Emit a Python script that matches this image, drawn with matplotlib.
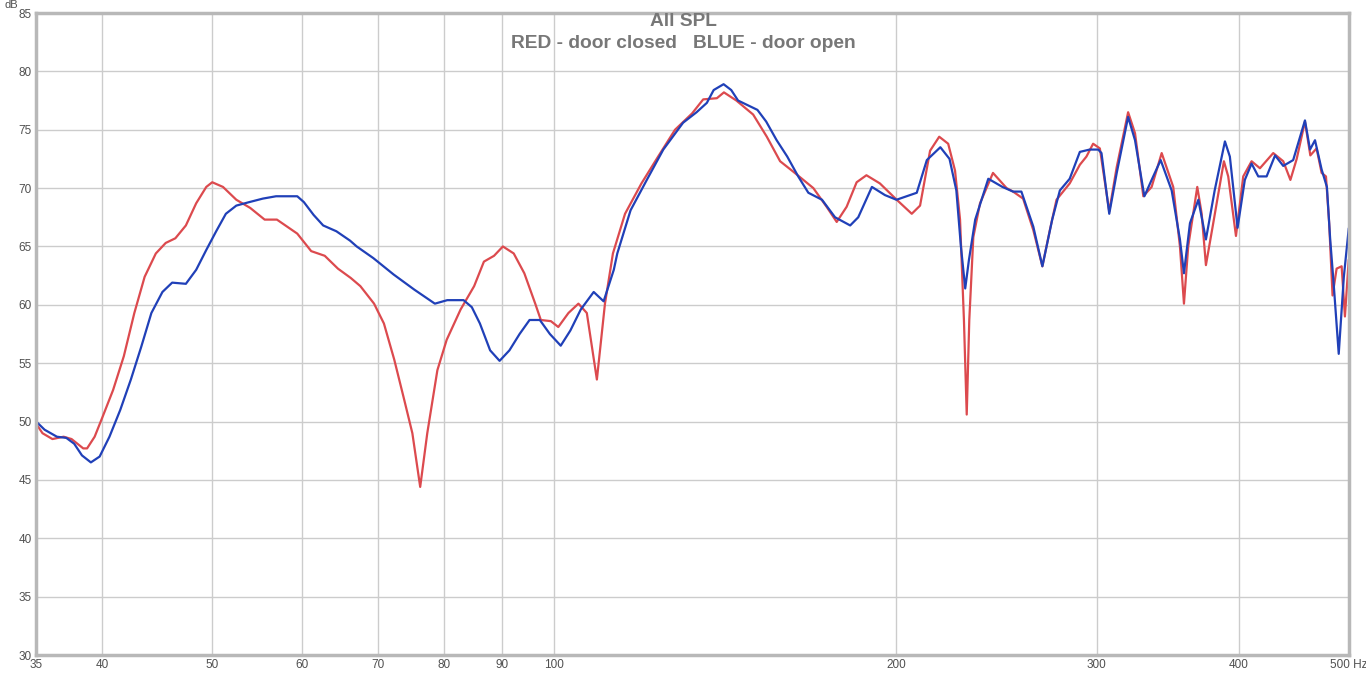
import numpy as np
import matplotlib
matplotlib.use('Agg')
import matplotlib.pyplot as plt

# RED - door closed
red_hz = [35.0, 35.45, 36.17, 37.0, 37.6, 38.5, 38.8, 39.4, 40.0, 40.9, 41.8, 42.7, 43.6, 44.6,
          45.5, 46.4, 47.4, 48.4, 49.4, 50.0, 51.1, 52.5, 54.0, 55.6, 57.0, 59.4, 61.1, 62.8,
          64.5, 66.2, 67.5, 69.4, 70.8, 72.3, 73.8, 75.0, 76.2, 77.3, 78.9, 80.4, 82.7, 85.0,
          86.7, 88.5, 90.1, 92.1, 94.1, 96.2, 97.3, 99.3, 100.8, 102.9, 105.0, 106.8, 109.0,
          110.8, 112.6, 115.4, 119.3, 123.4, 127.7, 132.2, 135.2, 139.0, 141.0, 144.6, 149.6,
          153.8, 158.0, 162.3, 169.0, 173.6, 177.2, 180.8, 184.5, 188.2, 193.4, 200.1, 206.3,
          209.8, 214.1, 218.1, 222.1, 225.2, 227.5, 229.3, 230.6, 231.8, 233.7, 236.9, 243.2,
          250.0, 253.3, 258.5, 263.9, 268.8, 272.9, 276.6, 284.1, 290.0, 293.9, 297.9, 302.0,
          307.8, 312.5, 319.8, 324.3, 329.8, 335.4, 342.3, 350.4, 355.2, 358.1, 361.2, 367.9,
          371.2, 374.4, 380.0, 388.3, 391.7, 397.9, 403.8, 410.7, 417.7, 429.1, 437.9, 444.3,
          450.0, 457.6, 462.6, 468.5, 473.3, 477.5, 480.6, 483.9, 487.9, 492.9, 496.2, 500.0]
red_db = [49.8, 49.0, 48.5, 48.7, 48.5, 47.7, 47.7, 48.7, 50.3, 52.7, 55.6, 59.3, 62.4, 64.4,
          65.3, 65.7, 66.8, 68.7, 70.1, 70.5, 70.1, 69.0, 68.3, 67.3, 67.3, 66.1, 64.6, 64.2,
          63.1, 62.3, 61.6, 60.1, 58.4, 55.3, 51.8, 49.0, 44.4, 49.0, 54.4, 57.0, 59.6, 61.6,
          63.7, 64.2, 65.0, 64.4, 62.7, 60.1, 58.7, 58.6, 58.1, 59.3, 60.1, 59.3, 53.6,
          60.1, 64.4, 67.8, 70.4, 72.7, 75.0, 76.4, 77.6, 77.7, 78.2, 77.5, 76.3,
          74.4, 72.3, 71.4, 70.0, 68.4, 67.1, 68.4, 70.5, 71.1, 70.4, 69.0, 67.8,
          68.5, 73.2, 74.4, 73.8, 71.5, 67.3, 58.7, 50.6, 58.7, 65.8, 68.7, 71.3,
          70.0, 69.7, 69.1, 66.4, 63.3, 66.4, 69.0, 70.4, 72.0, 72.7, 73.8, 73.4,
          68.0, 71.8, 76.5, 74.7, 69.3, 70.1, 73.0, 70.1, 65.0, 60.1, 65.0, 70.1,
          67.8, 63.4, 67.0, 72.3, 71.0, 65.9, 71.0, 72.3, 71.7, 73.0, 72.3, 70.7,
          72.5, 75.7, 72.8, 73.4, 71.3, 71.0, 67.0, 60.8, 63.1, 63.3, 59.0, 63.8]

# BLUE - door open
blue_hz = [35.0, 35.6, 36.5, 37.2, 37.8, 38.4, 39.1, 39.8, 40.6, 41.5, 42.4, 43.3, 44.2, 45.2,
           46.1, 47.4, 48.4, 49.4, 50.4, 51.4, 52.5, 53.9, 55.4, 56.9, 59.4, 60.2, 61.4, 62.6,
           64.3, 66.1, 67.0, 69.3, 72.2, 75.3, 78.5, 80.5, 83.2, 84.6, 86.0, 87.8, 89.5, 91.3,
           93.2, 95.1, 97.1, 99.1, 101.3, 103.3, 105.5, 108.3, 110.5, 112.8, 113.6, 116.7,
           120.6, 124.7, 129.8, 133.4, 136.2, 138.1, 140.9, 143.1, 145.1, 150.9, 153.6, 156.9,
           160.3, 163.9, 167.3, 172.0, 176.6, 182.1, 185.1, 190.3, 195.4, 200.0, 208.4, 212.7,
           218.6, 222.7, 225.8, 227.9, 229.9, 231.6, 234.6, 240.9, 247.9, 253.3, 257.6, 263.9,
           268.8, 274.2, 278.5, 284.1, 290.0, 295.8, 301.0, 303.0, 307.8, 312.5, 319.8, 324.3,
           330.5, 335.4, 341.6, 349.3, 355.2, 358.1, 362.5, 368.7, 374.4, 381.1, 389.1, 393.0,
           399.2, 405.1, 410.7, 416.3, 423.4, 430.7, 437.9, 446.8, 457.6, 462.3, 467.0, 473.3,
           478.4, 481.6, 485.0, 490.0, 495.1, 500.0]
blue_db = [50.0, 49.3, 48.7, 48.6, 48.1, 47.1, 46.5, 47.0, 48.7, 51.0, 53.6, 56.4, 59.3, 61.1,
           61.9, 61.8, 63.0, 64.7, 66.3, 67.8, 68.5, 68.8, 69.1, 69.3, 69.3, 68.8, 67.7, 66.8,
           66.3, 65.5, 65.0, 64.0, 62.6, 61.3, 60.1, 60.4, 60.4, 59.8, 58.4, 56.1, 55.2, 56.1,
           57.5, 58.7, 58.7, 57.5, 56.5, 57.8, 59.6, 61.1, 60.3, 63.0, 64.4, 68.1,
           70.7, 73.3, 75.6, 76.5, 77.3, 78.4, 78.9, 78.4, 77.5, 76.7, 75.7, 74.1,
           72.7, 71.0, 69.6, 69.0, 67.5, 66.8, 67.5, 70.1, 69.4, 69.0, 69.6, 72.4,
           73.5, 72.5, 69.8, 65.0, 61.4, 63.8, 67.3, 70.8, 70.1, 69.7, 69.7, 66.7,
           63.3, 67.3, 69.8, 70.8, 73.1, 73.3, 73.3, 73.0, 67.8, 71.3, 76.1, 74.1,
           69.3, 70.7, 72.4, 69.8, 65.6, 62.7, 67.0, 69.0, 65.6, 69.8, 74.0, 72.7,
           66.6, 70.7, 72.1, 71.0, 71.0, 72.8, 71.9, 72.4, 75.8, 73.3, 74.1, 71.6,
           70.1, 65.6, 61.8, 55.8, 62.4, 66.5]

x_ticks = [35, 40, 50, 60, 70, 80, 90, 100, 200, 300, 400, 500]
x_labels = ['35', '40', '50', '60', '70', '80', '90', '100', '200', '300', '400', '500 Hz']
y_ticks = list(range(30, 86, 5))

plt.rcParams['font.family'] = ['Liberation Sans', 'DejaVu Sans']

fig = plt.figure(figsize=(13.66, 6.74), dpi=100)
ax = fig.add_axes([36.2 / 1366, 1 - 655 / 674, (1348.7 - 36.2) / 1366, (655 - 13) / 674])

ax.plot(red_hz, red_db, color='#dc4a4e', lw=1.6, solid_joinstyle='round')
ax.plot(blue_hz, blue_db, color='#2040b8', lw=1.6, solid_joinstyle='round')

ax.set_xscale('log')
ax.set_xlim(35, 500)
ax.set_ylim(30, 85)
ax.set_xticks(x_ticks)
ax.set_xticklabels(x_labels)
ax.minorticks_off()
ax.set_yticks(y_ticks)
ax.grid(True, color='#cccccc', lw=1.0)
ax.set_axisbelow(True)
ax.tick_params(length=0, labelsize=8.5, colors='#505050', pad=3)
for s in ax.spines.values():
    s.set_color('#b8b8b8')
    s.set_linewidth(2.5)

# unit label sits just left of the "85" tick label so they don't collide
fig.text(18 / 1366, 1 - 0.5 / 674, 'dB', ha='right', va='top', fontsize=8, color='#505050')
fig.text(0.5, 1 - 22 / 674, 'All SPL', ha='center', va='center', fontsize=13.8,
         fontweight='bold', color='#777777')
fig.text(0.5, 1 - 44 / 674, 'RED - door closed   BLUE - door open', ha='center', va='center',
         fontsize=13.8, fontweight='bold', color='#777777')

plt.savefig('out.png', dpi=100)
